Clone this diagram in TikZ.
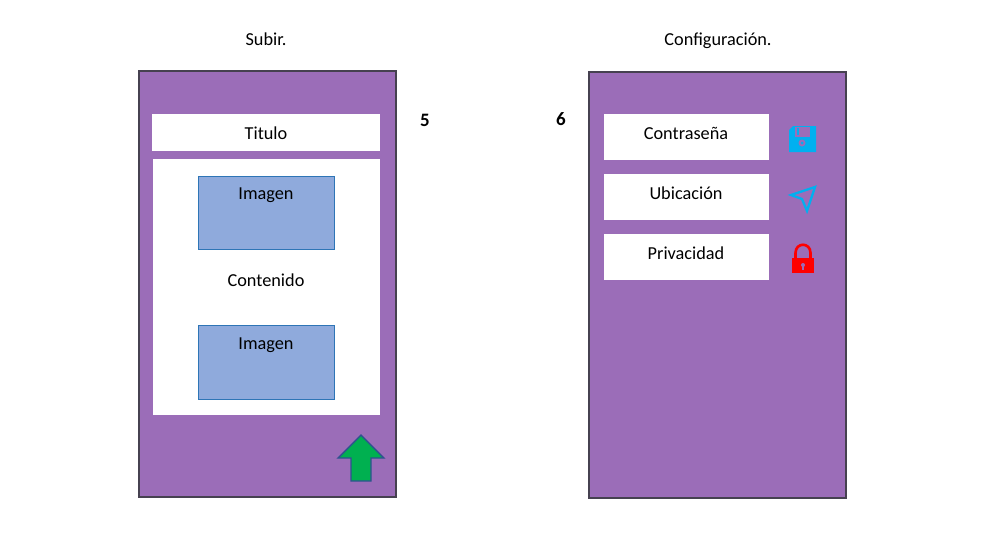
\documentclass[tikz,border=0pt]{standalone}
\usepackage{fontspec}
\setmainfont{Carlito}
\usepackage{xcolor}
\definecolor{appmorado}{RGB}{155, 109, 184}
\definecolor{appborde}{RGB}{70, 65, 80}
\definecolor{appazul}{RGB}{143, 170, 220}
\definecolor{appazulborde}{RGB}{46, 117, 182}
\definecolor{appverde}{RGB}{0, 176, 80}
\definecolor{appflecha}{RGB}{47, 82, 143}
\definecolor{appcian}{RGB}{0, 176, 240}
\definecolor{approjo}{RGB}{255, 0, 0}
\usetikzlibrary{calc}

\tikzset{
    texto/.style={font=\fontsize{10.4}{12}\selectfont, text=black, inner sep=0pt},
    numero/.style={font=\fontsize{10.8}{13}\selectfont\bfseries, text=black, inner sep=0pt},
    telefono/.style={fill=appmorado, draw=appborde, line width=0.7pt},
    caja/.style={fill=white},
    imagen/.style={fill=appazul, draw=appazulborde, line width=0.4pt}
}

\begin{document}
\begin{tikzpicture}[x=0.02cm, y=-0.02cm]
\useasboundingbox (0, 0) rectangle (986, 542);

% === Pantalla Subir ===
\node[texto] (subir) at (266, 39) {Subir.};
\draw[telefono] (139, 71) rectangle (396, 497);
\node[numero] (cinco) at (425, 120) {5};

\fill[caja] (152, 114) rectangle (380, 151);
\node[texto] (titulo) at (266, 133) {Titulo};

% Contenido con dos imagenes
\fill[caja] (153, 159) rectangle (380, 415);
\draw[imagen] (198, 176) rectangle (334, 249);
\node[texto] (imagen1) at (266, 195) {Imagen};
\node[texto] (contenido) at (266, 280) {Contenido};
\draw[imagen] (198, 325) rectangle (334, 399);
\node[texto] (imagen2) at (266, 345) {Imagen};

% Flecha verde
\draw[fill=appverde, draw=appflecha, line width=0.8pt, line join=miter]
    (361, 435) -- (384, 458) -- (371, 458) -- (371, 481)
    -- (351, 481) -- (351, 458) -- (338, 458) -- cycle;

% === Pantalla Configuracion ===
\node[texto] (config) at (718, 41) {Configuración.};
\draw[telefono] (589, 72) rectangle (846, 498);
\node[numero] (seis) at (561, 119) {6};

\fill[caja] (604, 114) rectangle (769, 160);
\node[texto] (contrasena) at (686, 133) {Contraseña};
\fill[caja] (604, 174) rectangle (769, 220);
\node[texto] (ubicacion) at (686, 193) {Ubicación};
\fill[caja] (604, 234) rectangle (769, 280);
\node[texto] (privacidad) at (686, 253) {Privacidad};

% === Iconos ===
% Disquete
\fill[appcian] (789, 130) -- (793, 126) -- (816, 126) -- (816, 152) -- (789, 152) -- cycle;
\fill[appmorado] (795, 127) rectangle (810, 137);
\fill[appcian] (797, 128) rectangle (799, 135);
\fill[appmorado] (802, 143) circle (3.5);
\fill[appcian] (802, 143) circle (1.5);

% Navegacion
\draw[appcian, line width=1.3pt, line join=miter]
    (815, 187) -- (791, 195) -- (802, 199) -- (807, 211) -- cycle;

% Candado
\draw[approjo, line width=1.5pt] (795.5, 259) -- (795.5, 253)
    .. controls (795.5, 242) and (810.5, 242) .. (810.5, 253) -- (810.5, 259);
\fill[approjo] (792, 258) rectangle (814, 273);
\fill[appmorado] (803, 265) circle (2);
\fill[appmorado] (802.2, 265) rectangle (803.8, 270);

\end{tikzpicture}
\end{document}
